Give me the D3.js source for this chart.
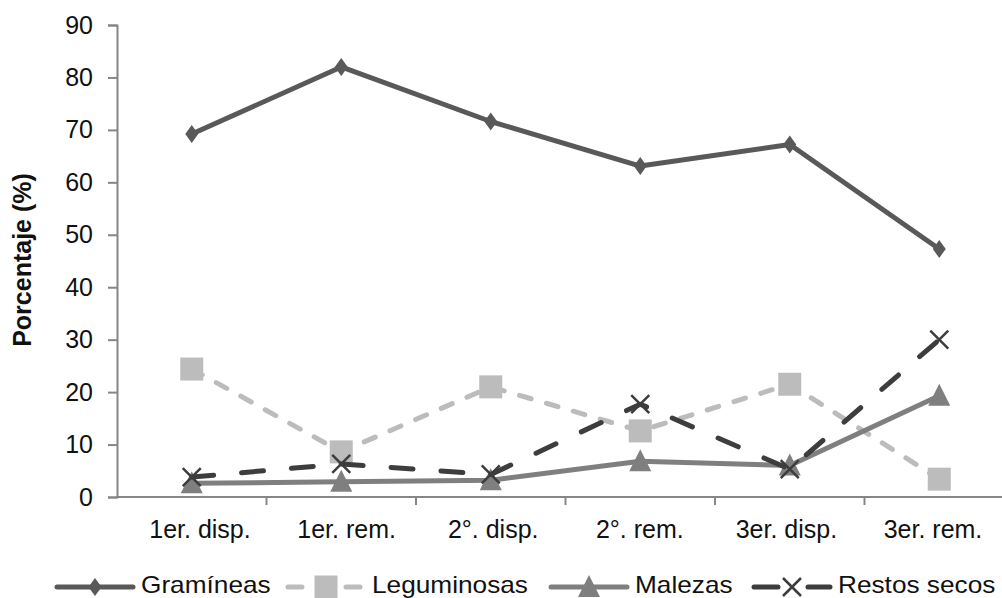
<!DOCTYPE html>
<html>
<head>
<meta charset="utf-8">
<script src="https://cdn.jsdelivr.net/npm/d3@7"></script>
<style>
  body { margin: 0; background: #fff; }
  text { font-family: "Liberation Sans", Arial, sans-serif; }
</style>
</head>
<body>
<div id="chart"></div>
<script>
// data
var categories = ["1er. disp.", "1er. rem.", "2°. disp.", "2°. rem.", "3er. disp.", "3er. rem."];
var gramineas   = [69.2, 82.0, 71.6, 63.1, 67.2, 47.3];
var leguminosas = [24.4, 8.6, 21.0, 12.6, 21.5, 3.4];
var malezas     = [2.6, 2.9, 3.2, 6.8, 6.0, 19.3];
var restos      = [3.8, 6.3, 4.3, 17.7, 5.3, 30.0];
var yTicks = [0, 10, 20, 30, 40, 50, 60, 70, 80, 90];

var series = [
  {name: "Gramíneas", values: gramineas, color: "#595959", dash: null, legDash: null, marker: "diamond"},
  {name: "Leguminosas", values: leguminosas, color: "#bcbcbc", dash: "12,16", legDash: "14,44", marker: "square"},
  {name: "Malezas", values: malezas, color: "#7f7f7f", dash: null, legDash: null, marker: "triangle"},
  {name: "Restos secos", values: restos, color: "#3d3d3d", dash: "22,28", legDash: "24,30", marker: "x"}
];

// legend layout: start of each legend line
var legendX = [55, 286, 549, 752];

var W = 1002, H = 598;
var svg = d3.select("#chart").append("svg")
  .attr("width", W).attr("height", H);

var x = d3.scaleBand().domain(categories).range([117, 1014]);
var xLabel = d3.scalePoint().domain(categories).range([200, 933]);
var y = d3.scaleLinear().domain([0, 90]).range([497, 25]);

// axes
var axisColor = "#868686";
var yAxis = svg.append("g")
  .attr("transform", "translate(117,0)")
  .call(d3.axisLeft(y).tickValues(yTicks).tickSize(9).tickPadding(15));
yAxis.select(".domain").attr("stroke", axisColor).attr("stroke-width", 2);
yAxis.selectAll(".tick line").attr("stroke", axisColor).attr("stroke-width", 2);
yAxis.selectAll(".tick text")
  .attr("font-size", 25).attr("fill", "#111")
  .style("font-family", "'Liberation Sans', Arial, sans-serif");

var xAxisG = svg.append("g").attr("transform", "translate(0,497)");
xAxisG.append("line")
  .attr("x1", 116).attr("x2", W)
  .attr("stroke", axisColor).attr("stroke-width", 2);
xAxisG.selectAll(".tk")
  .data(categories.slice(1))
  .enter().append("line")
  .attr("x1", d => x(d)).attr("x2", d => x(d))
  .attr("y1", 0).attr("y2", 8)
  .attr("stroke", axisColor).attr("stroke-width", 2);
xAxisG.selectAll(".lbl")
  .data(categories)
  .enter().append("text")
  .attr("x", d => xLabel(d))
  .attr("y", 41)
  .attr("text-anchor", "middle")
  .attr("font-size", 25).attr("fill", "#111")
  .text(d => d);

svg.append("text")
  .attr("transform", "translate(31,260) rotate(-90)")
  .attr("text-anchor", "middle")
  .attr("font-size", 25).attr("font-weight", "bold").attr("fill", "#111")
  .text("Porcentaje (%)");

function cx(i) { return x(categories[i]) + x.bandwidth() / 2; }

var line = d3.line()
  .x((d, i) => cx(i))
  .y(d => y(d));

function drawMarker(g, type, color, px, py) {
  if (type === "diamond") {
    g.append("path")
      .attr("d", "M0,-9L6.5,0L0,9L-6.5,0Z")
      .attr("transform", "translate(" + px + "," + py + ")")
      .attr("fill", color);
  } else if (type === "square") {
    g.append("rect")
      .attr("x", px - 11.5).attr("y", py - 11.5)
      .attr("width", 23).attr("height", 23)
      .attr("fill", color);
  } else if (type === "triangle") {
    g.append("path")
      .attr("d", "M0,-12L11,10L-11,10Z")
      .attr("transform", "translate(" + px + "," + py + ")")
      .attr("fill", color);
  } else {
    g.append("path")
      .attr("d", "M-9,-9L9,9M-9,9L9,-9")
      .attr("transform", "translate(" + px + "," + py + ")")
      .attr("stroke", color).attr("stroke-width", 2.5).attr("fill", "none");
  }
}

series.forEach(function(s) {
  var g = svg.append("g");
  g.append("path")
    .datum(s.values)
    .attr("d", line)
    .attr("fill", "none")
    .attr("stroke", s.color)
    .attr("stroke-width", 5)
    .attr("stroke-linecap", "round")
    .attr("stroke-linejoin", "round")
    .attr("stroke-dasharray", s.dash);
  s.values.forEach(function(v, i) {
    drawMarker(g, s.marker, s.color, cx(i), y(v));
  });
});

// legend
var legend = svg.append("g").attr("transform", "translate(0,587)");
series.forEach(function(s, i) {
  var lx = legendX[i];
  var g = legend.append("g");
  g.append("line")
    .attr("x1", lx + 2).attr("x2", lx + 78)
    .attr("stroke", s.color).attr("stroke-width", 5)
    .attr("stroke-linecap", "round")
    .attr("stroke-dasharray", s.legDash);
  drawMarker(g, s.marker, s.color, lx + 40, 0);
  g.append("text")
    .attr("transform", "translate(" + (lx + 86) + ",6) scale(1.14,1)")
    .attr("font-size", 23).attr("fill", "#111")
    .text(s.name);
});
</script>
</body>
</html>
